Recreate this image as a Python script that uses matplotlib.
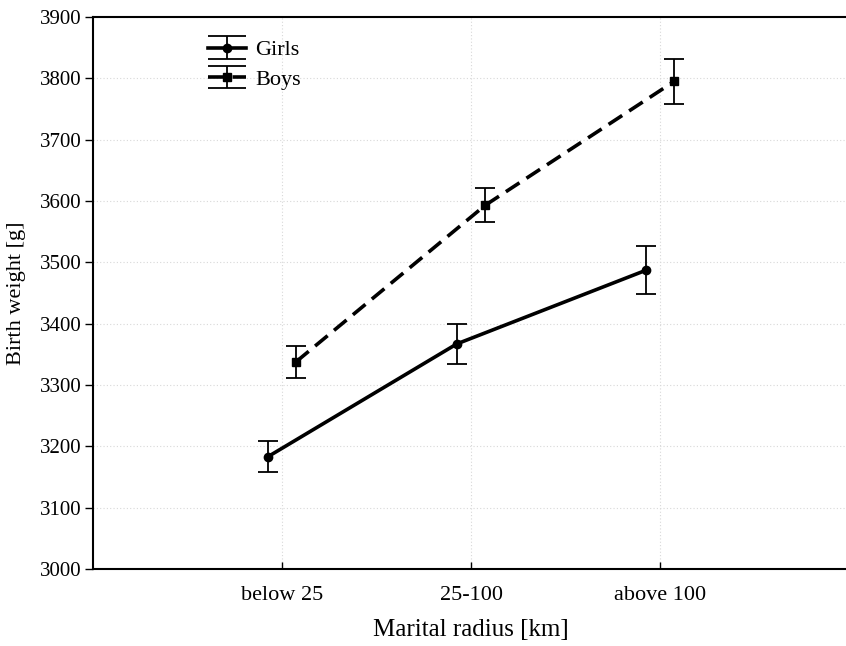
import matplotlib
matplotlib.use('Agg')
import matplotlib.pyplot as plt
from matplotlib.legend_handler import HandlerErrorbar
from matplotlib.lines import Line2D
import numpy as np

# values
categories = ['below 25', '25-100', 'above 100']
girls_mean = [3183, 3367, 3487]
girls_err = [25, 33, 39]
boys_mean = [3338, 3593, 3795]
boys_err = [26, 28, 37]
y_ticks = [3000, 3100, 3200, 3300, 3400, 3500, 3600, 3700, 3800, 3900]

plt.rcParams['font.family'] = 'Liberation Serif'


class WideCaps(HandlerErrorbar):
    # legend caps as wide as the handle, like the original
    def create_artists(self, *args, **kw):
        artists = super().create_artists(*args, **kw)
        for a in artists:
            if isinstance(a, Line2D) and a.get_marker() == '_':
                a.set_markersize(27)
        return artists


fig = plt.figure(figsize=(8.46, 6.46), dpi=100)
ax = fig.add_axes([93/846, 1 - 569/646, 756/846, 552/646])

x = np.arange(1, len(categories) + 1)
off = 0.075

ax.errorbar(x - off, girls_mean, yerr=girls_err, color='black', lw=2.6,
            marker='o', ms=6, elinewidth=1.3, capsize=7, capthick=1.3,
            label='Girls', zorder=3)
ax.errorbar(x + off, boys_mean, yerr=boys_err, color='black', lw=2.6,
            linestyle=(0, (4.5, 2.3)), marker='s', ms=6, elinewidth=1.3,
            capsize=7, capthick=1.3, label='Boys', zorder=3)

ax.set_xlim(0, 4)
ax.set_ylim(3000, 3900)
ax.set_xticks(x)
ax.set_xticklabels(categories)
ax.set_yticks(y_ticks)
ax.tick_params(axis='y', direction='out', length=6, labelsize=15, pad=2.5, width=1)
ax.tick_params(axis='x', direction='in', length=5, labelsize=16, pad=12, width=1)

ax.grid(True, color='#d8d8d8', linestyle=(0, (1, 2)), linewidth=0.8)
ax.set_axisbelow(True)

for s in ax.spines.values():
    s.set_linewidth(1.5)

ax.set_xlabel('Marital radius [km]', fontsize=18, labelpad=10)
ax.set_ylabel('Birth weight [g]', fontsize=16)
ax.yaxis.set_label_coords(-0.088, 0.5)

ax.legend(loc='upper left', bbox_to_anchor=(0.125, 0.995), frameon=False,
          fontsize=16, handlelength=1.75, labelspacing=0.4, handletextpad=0.4,
          handler_map={type(ax.containers[0]): WideCaps()})

plt.savefig('out.png', dpi=100)
plt.close()
